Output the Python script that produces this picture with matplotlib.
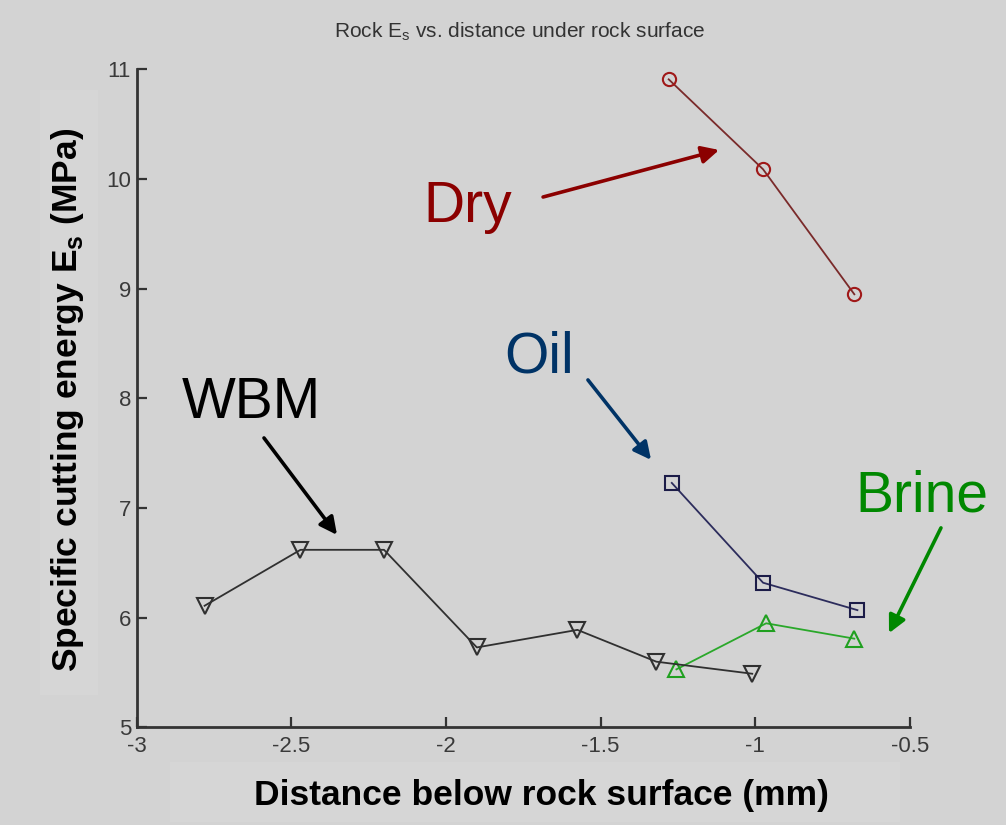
import matplotlib
matplotlib.use("Agg")
import matplotlib.pyplot as plt
from matplotlib import font_manager
from matplotlib.patches import Rectangle

# --- data -------------------------------------------------------------
dry_x = [-1.28, -0.975, -0.68]
dry_y = [10.91, 10.09, 8.95]

oil_x = [-1.27, -0.975, -0.67]
oil_y = [7.23, 6.32, 6.07]

brine_x = [-1.255, -0.965, -0.68]
brine_y = [5.53, 5.95, 5.81]

wbm_x = [-2.78, -2.47, -2.20, -1.90, -1.575, -1.32, -1.01]
wbm_y = [6.11, 6.62, 6.62, 5.73, 5.89, 5.60, 5.49]

x_ticks = [-3, -2.5, -2, -1.5, -1, -0.5]
x_tick_labels = ["-3", "-2.5", "-2", "-1.5", "-1", "-0.5"]
y_ticks = [5, 6, 7, 8, 9, 10, 11]
y_tick_labels = ["5", "6", "7", "8", "9", "10", "11"]

# --- fonts --------------------------------------------------------------
available = {f.name for f in font_manager.fontManager.ttflist}
narrow = [f for f in ["Liberation Sans Narrow", "Liberation Sans", "DejaVu Sans"] if f in available]
sans = [f for f in ["Liberation Sans", "DejaVu Sans"] if f in available]
plt.rcParams["font.family"] = sans
plt.rcParams["mathtext.fontset"] = "custom"
plt.rcParams["mathtext.rm"] = sans[0]
plt.rcParams["mathtext.bf"] = sans[0] + ":bold"

BG = "#d3d3d3"
PANEL = "#d6d6d6"
SPINE = "#333333"

fig = plt.figure(figsize=(10.06, 8.25), dpi=100, facecolor=BG)

# faint lighter panels behind the axis titles
fig.patches.append(Rectangle((40 / 1006, 1 - 695 / 825), 58 / 1006, 605 / 825,
                             transform=fig.transFigure, facecolor=PANEL,
                             edgecolor="none", zorder=0))
fig.patches.append(Rectangle((170 / 1006, 1 - 822 / 825), 730 / 1006, 60 / 825,
                             transform=fig.transFigure, facecolor=PANEL,
                             edgecolor="none", zorder=0))

ax = fig.add_axes([0.1357, 0.1182, 0.9046 - 0.1357, 0.9158 - 0.1182])
ax.set_facecolor("none")

# --- series -------------------------------------------------------------
ax.plot(dry_x, dry_y, color="#7a2a2a", lw=1.3, marker="o", ms=9.5,
        mfc="none", mec="#a01818", mew=1.5, zorder=3)
ax.plot(oil_x, oil_y, color="#2c2c5c", lw=1.3, marker="s", ms=10,
        mfc="none", mec="#1c1c48", mew=1.5, zorder=3)
ax.plot(brine_x, brine_y, color="#2aa82a", lw=1.3, marker="^", ms=11,
        mfc="none", mec="#20a020", mew=1.5, zorder=3)
ax.plot(wbm_x, wbm_y, color="#303030", lw=1.3, marker="v", ms=11,
        mfc="none", mec="#303030", mew=1.5, zorder=3)

# --- axes styling -------------------------------------------------------
ax.set_xlim(-3, -0.5)
ax.set_ylim(5, 11)
ax.set_xticks(x_ticks)
ax.set_xticklabels(x_tick_labels)
ax.set_yticks(y_ticks)
ax.set_yticklabels(y_tick_labels)
for side in ("top", "right"):
    ax.spines[side].set_visible(False)
for side in ("left", "bottom"):
    ax.spines[side].set_color(SPINE)
    ax.spines[side].set_linewidth(2.0)
ax.tick_params(direction="in", length=7, width=1.6, color=SPINE,
               labelcolor="#3a3a3a", labelsize=16)
ax.tick_params(axis="x", pad=6)
ax.tick_params(axis="y", pad=4)
for lab in ax.get_xticklabels() + ax.get_yticklabels():
    lab.set_family(narrow)

# --- labels -------------------------------------------------------------
fig.text(520 / 1006, 1 - 32 / 825, r"Rock E$_\mathregular{s}$ vs. distance under rock surface",
         ha="center", va="center", fontsize=15, color="#333333", family=narrow)
fig.text(541 / 1006, 1 - 795 / 825, "Distance below rock surface (mm)",
         ha="center", va="center", fontsize=25.5, fontweight="bold", color="black")
fig.text(68 / 1006, 1 - 400 / 825,
         r"Specific cutting energy E$_\mathbf{s}$ (MPa)",
         ha="center", va="center", rotation=90, fontsize=25.5,
         fontweight="bold", color="black")

# --- callouts -----------------------------------------------------------
def callout(label, color, text_xy, tail_xy, tip_xy):
    ax.text(*text_xy, label, color=color, fontsize=41, ha="left",
            va="baseline", clip_on=False, zorder=5)
    ax.annotate("", xy=tip_xy, xytext=tail_xy, annotation_clip=False,
                arrowprops=dict(arrowstyle="-|>", color=color, lw=2.6,
                                mutation_scale=26, shrinkA=0, shrinkB=0))

callout("Dry", "#8b0000", (-2.074, 9.61), (-1.686, 9.837), (-1.117, 10.266))
callout("WBM", "black", (-2.853, 7.822), (-2.588, 7.64), (-2.352, 6.756))
callout("Oil", "#003366", (-1.812, 8.233), (-1.541, 8.169), (-1.337, 7.44))
callout("Brine", "#008800", (-0.678, 6.965), (-0.40, 6.82), (-0.568, 5.86))

fig.savefig("out.png", dpi=100, facecolor=BG)
